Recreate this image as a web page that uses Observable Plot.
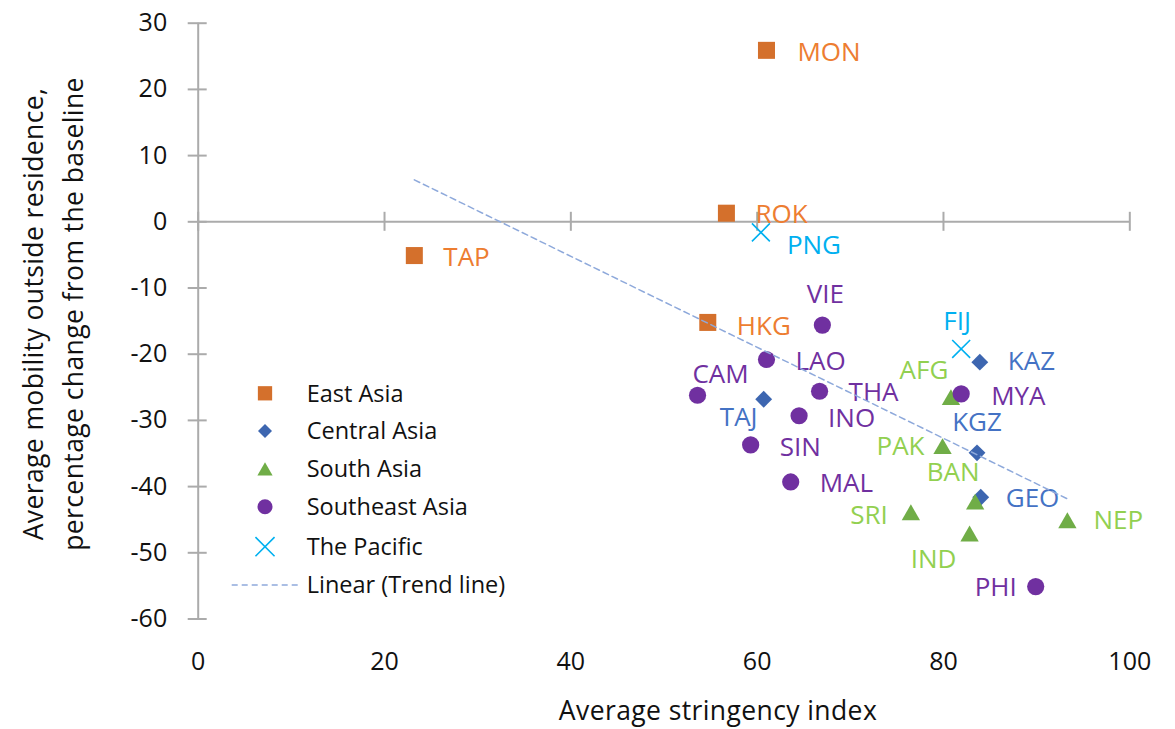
<!DOCTYPE html>
<html><head><meta charset="utf-8">
<script src="https://cdn.jsdelivr.net/npm/d3@7"></script>
<script src="https://cdn.jsdelivr.net/npm/@observablehq/plot@0.6"></script>
<style>
html,body{margin:0;padding:0;background:#fff;}
#chart{position:relative;width:1175px;height:729px;overflow:hidden;}
#chart svg{display:block;}
</style></head><body><div id="chart"></div>
<script>
// ---- data ----
const regions = ["East Asia", "Central Asia", "South Asia", "Southeast Asia", "The Pacific"];
const codes = ["MON","ROK","TAP","HKG","KAZ","TAJ","KGZ","GEO","AFG","PAK","BAN","SRI","IND","NEP","VIE","LAO","CAM","THA","MYA","INO","SIN","MAL","PHI","PNG","FIJ"];
const codeRegion = ["East Asia","East Asia","East Asia","East Asia",
  "Central Asia","Central Asia","Central Asia","Central Asia",
  "South Asia","South Asia","South Asia","South Asia","South Asia","South Asia",
  "Southeast Asia","Southeast Asia","Southeast Asia","Southeast Asia","Southeast Asia","Southeast Asia","Southeast Asia","Southeast Asia","Southeast Asia",
  "The Pacific","The Pacific"];
const stringency = [61.0,56.7,23.2,54.7, 83.9,60.7,83.6,84.0, 80.8,79.9,83.4,76.5,82.8,93.3, 67.0,61.0,53.6,66.7,81.9,64.5,59.3,63.6,89.9, 60.4,81.9];
const mobility   = [25.9,1.3,-5.1,-15.2, -21.2,-26.8,-34.9,-41.6, -26.5,-33.9,-42.3,-43.9,-47.1,-45.1, -15.6,-20.8,-26.2,-25.6,-26.0,-29.3,-33.7,-39.3,-55.1, -1.6,-19.2];
const xTicks = [0, 20, 40, 60, 80, 100];
const yTicks = [30, 20, 10, 0, -10, -20, -30, -40, -50, -60];
const trendLabel = "Linear (Trend line)";
const xTitle = "Average stringency index";
const yTitle = ["Average mobility outside residence,", "percentage change from the baseline"];

// ---- styles / layout ----
const style = {
  "East Asia":      {symbol: "square",   fill: "#D4702C", r: 9.6, label: "#ED7D31"},
  "Central Asia":   {symbol: "diamond2", fill: "#3D66B0", r: 7.6, label: "#4472C4"},
  "South Asia":     {symbol: "triangle", fill: "#70AD47", r: 6.8, label: "#92D050", dy: 2.5},
  "Southeast Asia": {symbol: "circle",   fill: "#7030A0", r: 8.6, label: "#7030A0"},
  "The Pacific":    {symbol: "times",    stroke: "#00B0F0", r: 8.2, label: "#00B0F0"}
};
// label placement: [textAnchor, dx, dy]
const labelPos = {
  MON:["start",31,2], ROK:["start",29,1], TAP:["start",29,2], HKG:["start",29,4],
  KAZ:["start",28,0], TAJ:["middle",-25,18], KGZ:["middle",0,-30], GEO:["start",25,1],
  AFG:["middle",-27,-27], PAK:["end",-18,0], BAN:["middle",-22,-29], SRI:["end",-23,3], IND:["middle",-36,26], NEP:["start",26,0],
  VIE:["middle",3,-30], LAO:["start",29,2], CAM:["middle",23,-21], THA:["start",29,1], MYA:["start",30,3], INO:["start",29,3], SIN:["start",29,3], MAL:["start",29,2], PHI:["end",-19,1],
  PNG:["start",26,13], FIJ:["middle",-4,-27]
};

const table = codes.map((c, i) => ({code: c, region: codeRegion[i], x: stringency[i], y: mobility[i]}));

const axisColor = "#ABABAB";
const FONT = "'Open Sans', sans-serif";

const marks = [
  Plot.ruleY([0], {stroke: axisColor, strokeWidth: 2}),
  Plot.ruleX([0], {stroke: axisColor, strokeWidth: 2}),
  Plot.ruleX(xTicks, {x: d => d, y1: 0, y2: 0, insetTop: -9.5, insetBottom: -9.5, stroke: axisColor, strokeWidth: 2}),
  Plot.ruleY(yTicks, {y: d => d, x1: 0, x2: 0, insetLeft: -10, insetRight: -9, stroke: axisColor, strokeWidth: 2}),
  Plot.axisX({ticks: xTicks, tickSize: 0, tickPadding: 33, fontSize: 25, label: null, tickFormat: d => String(d)}),
  Plot.axisY({ticks: yTicks, tickSize: 0, tickPadding: 31, fontSize: 25, label: null, tickFormat: d => String(d)})
];

for (const reg of regions) {
  const s = style[reg];
  const rows = table.filter(d => d.region === reg);
  marks.push(Plot.dot(rows, {
    x: "x", y: "y", symbol: s.symbol, r: s.r,
    fill: s.fill || "none", stroke: s.stroke || "none", strokeWidth: s.stroke ? 1.6 : 0,
    dy: s.dy || 0
  }));
}

for (const d of table) {
  const [anchor, dx, dy] = labelPos[d.code];
  marks.push(Plot.text([d], {
    x: "x", y: "y", text: "code", fill: style[d.region].label,
    fontSize: 26, textAnchor: anchor, dx, dy
  }));
}

marks.push(Plot.linearRegressionY(table, {x: "x", y: "y", ci: 0, stroke: "#8EA9DB", strokeWidth: 1.5, strokeDasharray: "6,4"}));

const svgNode = Plot.plot({
  width: 1175, height: 729,
  marginLeft: 197.7, marginRight: 45.7, marginTop: 22.7, marginBottom: 110.5,
  x: {domain: [0, 100]},
  y: {domain: [-60, 30]},
  style: {fontFamily: FONT, fontSize: "24px", color: "#111", background: "#fff"},
  marks
});
document.getElementById("chart").appendChild(svgNode);

// ---- titles & legend ----
const svg = d3.select(svgNode);
svg.append("text").attr("x", 718).attr("y", 720).attr("text-anchor", "middle")
  .attr("font-family", FONT).attr("font-size", 26.5).attr("letter-spacing", "0.4px").attr("fill", "#111").text(xTitle);
const yt = svg.append("g").attr("transform", "translate(0,314) rotate(-90)");
yTitle.forEach((t, i) => {
  yt.append("text").attr("x", 0).attr("y", 43 + i * 40).attr("text-anchor", "middle")
    .attr("font-family", FONT).attr("font-size", 26.5).attr("letter-spacing", "0.4px").attr("fill", "#111").text(t);
});

const legendSym = {
  "East Asia": d3.symbol(d3.symbolSquare, 204),
  "Central Asia": d3.symbol(d3.symbolDiamond2, 125),
  "South Asia": d3.symbol(d3.symbolTriangle, 100),
  "Southeast Asia": d3.symbol(d3.symbolCircle, 177),
  "The Pacific": d3.symbol(d3.symbolTimes, 240)
};
const lg = svg.append("g").attr("font-family", FONT).attr("font-size", 23.5).attr("fill", "#111").attr("text-anchor", "start");
const rowY = [393.3, 431, 469, 506.7, 546.7, 585];
regions.forEach((reg, i) => {
  const s = style[reg];
  const dyShift = reg === "South Asia" ? 2 : 0;
  lg.append("path").attr("d", legendSym[reg]())
    .attr("transform", `translate(265,${rowY[i] + dyShift})`)
    .attr("fill", s.fill || "none").attr("stroke", s.stroke || "none").attr("stroke-width", s.stroke ? 1.6 : 0);
  lg.append("text").attr("x", 306.7).attr("y", rowY[i]).attr("dy", "0.35em").attr("text-anchor", "start").text(reg);
});
lg.append("line").attr("x1", 231.7).attr("x2", 298.3).attr("y1", rowY[5]).attr("y2", rowY[5])
  .attr("stroke", "#8EA9DB").attr("stroke-width", 1.5).attr("stroke-dasharray", "6,4");
lg.append("text").attr("x", 306.7).attr("y", rowY[5]).attr("dy", "0.35em").attr("text-anchor", "start").text(trendLabel);
</script></body></html>
